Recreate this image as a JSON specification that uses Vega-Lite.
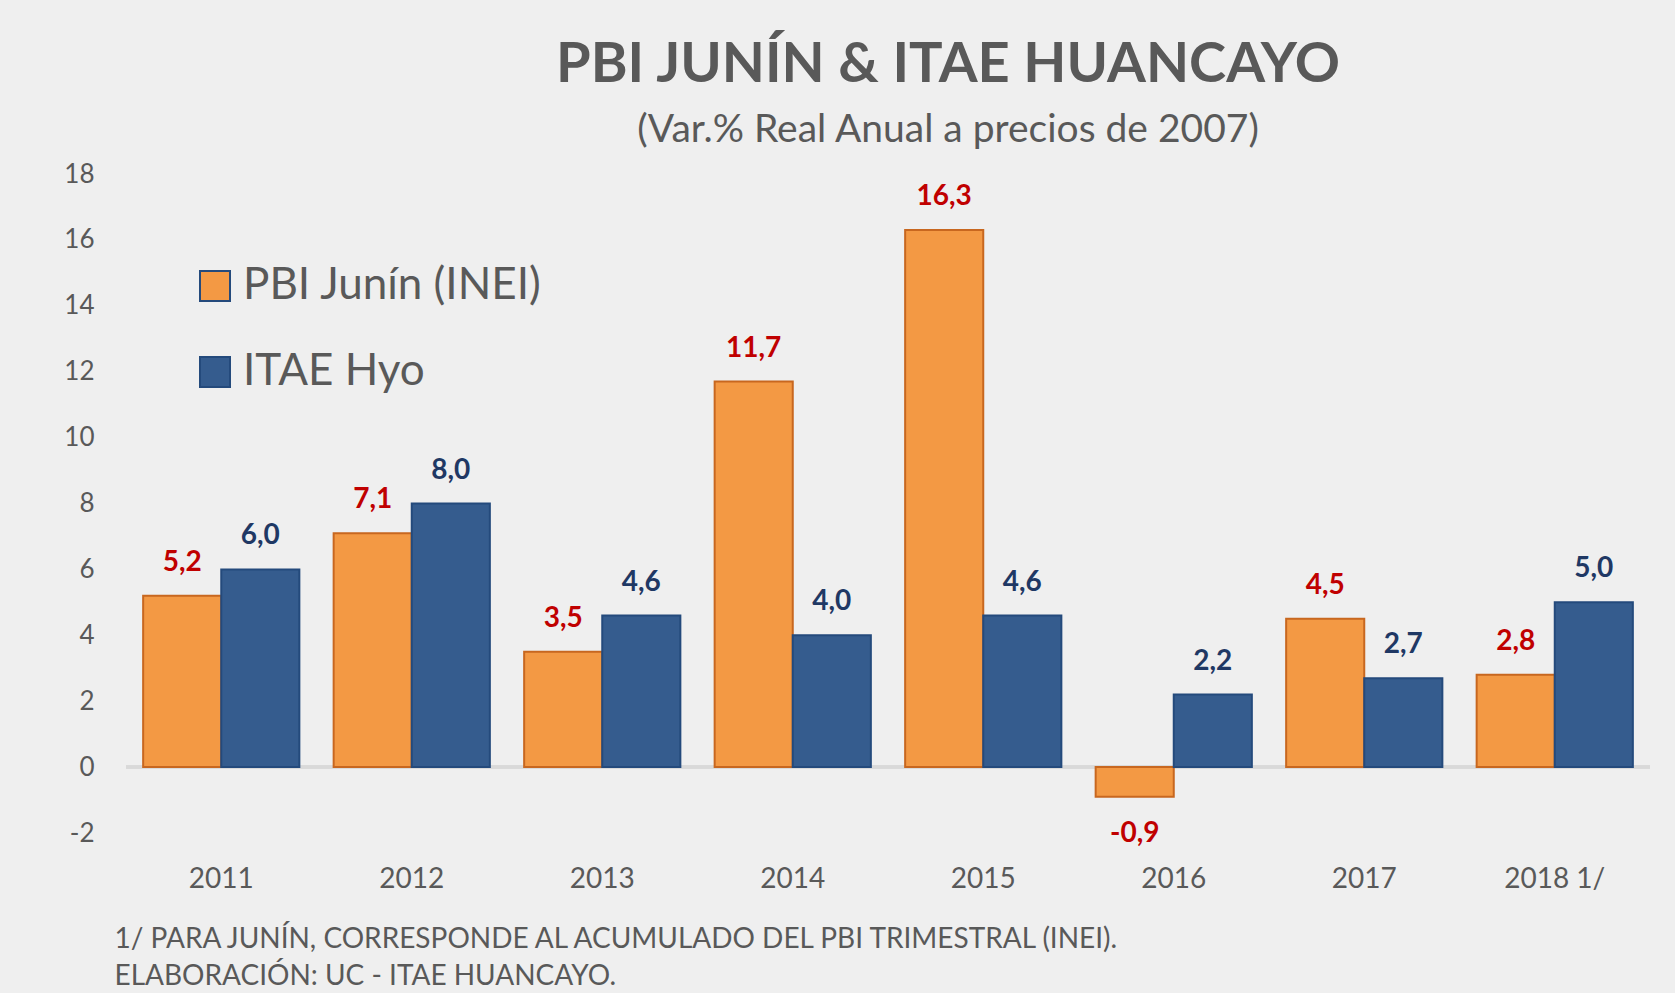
{
  "$schema": "https://vega.github.io/schema/vega-lite/v6.json",
  "width": 1524,
  "height": 659,
  "autosize": "none",
  "padding": {"left": 126, "top": 174, "right": 25, "bottom": 160},
  "background": "#efefef",
  "config": {
    "view": {"stroke": null},
    "font": "Lato",
    "locale": {"number": {"decimal": ",", "thousands": ".", "grouping": [3], "currency": ["", ""], "minus": "-"}}
  },
  "title": {
    "text": "PBI JUNÍN & ITAE HUANCAYO",
    "subtitle": "(Var.% Real Anual a precios de 2007)",
    "anchor": "middle",
    "dx": 60,
    "offset": 10,
    "font": "Lato",
    "fontSize": 56,
    "fontWeight": "bold",
    "color": "#595959",
    "subtitleFont": "Lato",
    "subtitleFontSize": 39,
    "subtitleColor": "#595959",
    "subtitlePadding": 17
  },
  "data": {
    "values": [
      {"year": "2011", "series": "PBI Junín (INEI)", "value": 5.2},
      {"year": "2011", "series": "ITAE Hyo", "value": 6.0},
      {"year": "2012", "series": "PBI Junín (INEI)", "value": 7.1},
      {"year": "2012", "series": "ITAE Hyo", "value": 8.0},
      {"year": "2013", "series": "PBI Junín (INEI)", "value": 3.5},
      {"year": "2013", "series": "ITAE Hyo", "value": 4.6},
      {"year": "2014", "series": "PBI Junín (INEI)", "value": 11.7},
      {"year": "2014", "series": "ITAE Hyo", "value": 4.0},
      {"year": "2015", "series": "PBI Junín (INEI)", "value": 16.3},
      {"year": "2015", "series": "ITAE Hyo", "value": 4.6},
      {"year": "2016", "series": "PBI Junín (INEI)", "value": -0.9},
      {"year": "2016", "series": "ITAE Hyo", "value": 2.2},
      {"year": "2017", "series": "PBI Junín (INEI)", "value": 4.5},
      {"year": "2017", "series": "ITAE Hyo", "value": 2.7},
      {"year": "2018 1/", "series": "PBI Junín (INEI)", "value": 2.8},
      {"year": "2018 1/", "series": "ITAE Hyo", "value": 5.0}
    ]
  },
  "encoding": {
    "x": {
      "field": "year",
      "type": "nominal",
      "sort": null,
      "scale": {"paddingInner": 0.18, "paddingOuter": 0.09},
      "axis": {
        "labelAngle": 0,
        "labelFontSize": 28,
        "labelColor": "#595959",
        "labelPadding": 32,
        "ticks": false,
        "domain": false,
        "title": ["1/ PARA JUNÍN, CORRESPONDE AL ACUMULADO DEL PBI TRIMESTRAL (INEI).", "ELABORACIÓN: UC - ITAE HUANCAYO."],
        "titleFontSize": 28,
        "titleFontWeight": "normal",
        "titleColor": "#595959",
        "titleAnchor": "start",
        "titleAlign": "left",
        "titleBaseline": "alphabetic",
        "titleX": -12,
        "titleY": 114,
        "titleLineHeight": 37
      }
    },
    "xOffset": {"field": "series", "type": "nominal", "sort": ["PBI Junín (INEI)", "ITAE Hyo"]},
    "y": {
      "field": "value",
      "type": "quantitative",
      "scale": {"domain": [-2, 18], "nice": false},
      "axis": {
        "values": [-2, 0, 2, 4, 6, 8, 10, 12, 14, 16, 18],
        "labelFontSize": 26,
        "labelColor": "#595959",
        "labelPadding": 32,
        "ticks": false,
        "domain": false,
        "grid": false,
        "title": null
      }
    }
  },
  "layer": [
    {
      "mark": {"type": "rule", "color": "#d9d9d9", "strokeWidth": 3},
      "encoding": {"y": {"datum": 0}, "x": {"value": 0}, "x2": {"value": 1524}, "xOffset": null}
    },
    {
      "mark": {"type": "bar", "strokeWidth": 2},
      "encoding": {
        "fill": {
          "field": "series",
          "type": "nominal",
          "scale": {"domain": ["PBI Junín (INEI)", "ITAE Hyo"], "range": ["#f39944", "#355c8e"]},
          "legend": {
            "title": null,
            "orient": "none",
            "legendX": 67,
            "legendY": 90,
            "symbolType": "square",
            "symbolSize": 900,
            "symbolStrokeWidth": 2,
            "labelFontSize": 44,
            "labelColor": "#595959",
            "labelOffset": 6,
            "rowPadding": 42,
            "labelLimit": 600
          }
        },
        "stroke": {
          "condition": {"test": "datum.series === 'PBI Junín (INEI)'", "value": "#c8671f"},
          "value": "#244a7c"
        }
      }
    },
    {
      "transform": [{"filter": "datum.value >= 0"}],
      "mark": {"type": "text", "fontSize": 28, "fontWeight": "bold", "baseline": "middle", "dy": -33},
      "encoding": {
        "text": {"field": "value", "type": "quantitative", "format": ".1f"},
        "color": {
          "condition": {"test": "datum.series === 'PBI Junín (INEI)'", "value": "#c00000"},
          "value": "#1f3864"
        }
      }
    },
    {
      "transform": [{"filter": "datum.value < 0"}],
      "mark": {"type": "text", "fontSize": 28, "fontWeight": "bold", "baseline": "middle", "dy": 37},
      "encoding": {
        "text": {"field": "value", "type": "quantitative", "format": ".1f"},
        "color": {
          "condition": {"test": "datum.series === 'PBI Junín (INEI)'", "value": "#c00000"},
          "value": "#1f3864"
        }
      }
    }
  ]
}
